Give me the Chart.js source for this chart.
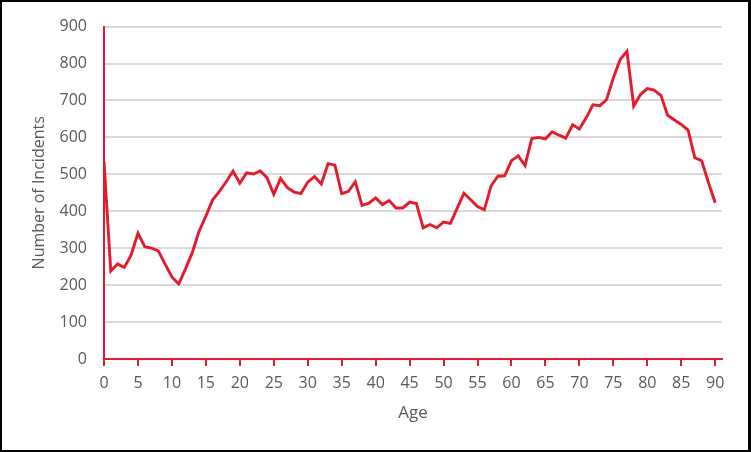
<!DOCTYPE html>
<html>
<head>
<meta charset="utf-8">
<script src="https://cdn.jsdelivr.net/npm/chart.js@4"></script>
<style>
  html, body { margin: 0; padding: 0; background: #fff; }
  #wrap { position: relative; width: 751px; height: 452px; }
  canvas { display: block; }
</style>
</head>
<body>
<div id="wrap"><canvas id="c" width="751" height="452"></canvas></div>
<script>
// Ages 0..90
const ages = [];
for (let a = 0; a <= 90; a++) ages.push(a);

const incidents = [
  535, 238, 257, 248, 282, 341, 304, 300, 293, 257,
  222, 203, 244, 288, 346, 387, 431, 454, 480, 509,
  476, 504, 501, 509, 491, 446, 489, 464, 452, 448,
  479, 494, 474, 529, 525, 448, 454, 480, 416, 422,
  436, 418, 429, 409, 409, 425, 421, 355, 364, 355,
  371, 367, 408, 449, 431, 413, 404, 469, 495, 496,
  537, 550, 524, 597, 600, 596, 615, 606, 598, 634,
  623, 653, 688, 686, 702, 761, 811, 833, 685, 716,
  732, 728, 714, 660, 647, 635, 620, 545, 537, 478,
  423
];

const yTicks = [0, 100, 200, 300, 400, 500, 600, 700, 800, 900];
const xTicks = [0, 5, 10, 15, 20, 25, 30, 35, 40, 45, 50, 55, 60, 65, 70, 75, 80, 85, 90];

const RED = '#e31b2c';
const GREY_TXT = '#595959';
const FONT = '"Open Sans", "Noto Sans", sans-serif';

const points = ages.map((a, i) => ({ x: a, y: incidents[i] }));

const borderPlugin = {
  id: 'frame',
  afterDraw(chart) {
    const ctx = chart.ctx;
    ctx.save();
    ctx.fillStyle = '#000';
    ctx.fillRect(0, 0, 751, 2);
    ctx.fillRect(0, 450, 751, 2);
    ctx.fillRect(0, 0, 2, 452);
    ctx.fillRect(748, 0, 3, 452);
    ctx.restore();
  }
};

new Chart(document.getElementById('c'), {
  type: 'line',
  data: {
    datasets: [{
      data: points,
      borderColor: RED,
      borderWidth: 2.9,
      pointRadius: 0,
      tension: 0,
      fill: false
    }]
  },
  options: {
    responsive: false,
    animation: false,
    devicePixelRatio: 1,
    layout: { padding: { top: 17, right: 29, left: 0, bottom: 0 } },
    plugins: { legend: { display: false }, tooltip: { enabled: false } },
    scales: {
      x: {
        type: 'linear',
        min: 0,
        max: 91,
        afterBuildTicks(axis) { axis.ticks = xTicks.map(v => ({ value: v })); },
        afterFit(scale) { scale.height = 452 - 359; },
        border: { color: RED, width: 2 },
        grid: { drawOnChartArea: false, drawTicks: true, tickLength: 7, color: RED, lineWidth: 2 },
        ticks: { color: GREY_TXT, font: { family: FONT, size: 16 }, padding: 8, maxRotation: 0, autoSkip: false },
        title: { display: true, text: 'Age', color: GREY_TXT, font: { family: FONT, size: 17 }, padding: { top: 0, bottom: 29 } }
      },
      y: {
        min: 0,
        max: 900,
        afterBuildTicks(axis) { axis.ticks = yTicks.map(v => ({ value: v })); },
        afterFit(scale) { scale.width = 104; },
        border: { color: RED, width: 2 },
        grid: { color: '#d9d9d9', lineWidth: 2, drawTicks: false },
        ticks: { color: GREY_TXT, font: { family: FONT, size: 16 }, padding: 17 },
        title: { display: true, text: 'Number of Incidents', color: GREY_TXT, font: { family: FONT, size: 16 }, padding: { top: 30, bottom: 0 } }
      }
    }
  },
  plugins: [borderPlugin]
});
</script>
</body>
</html>
